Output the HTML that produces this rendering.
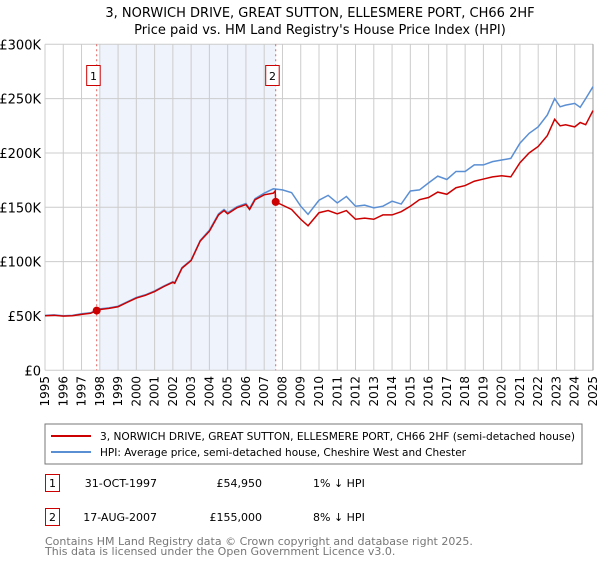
<!DOCTYPE html>
<html><head><meta charset="utf-8"><style>
body{margin:0;background:#fff;font-family:"Liberation Sans","DejaVu Sans",sans-serif;}
#wrap{position:relative;width:600px;height:560px;}
</style></head><body><div id="wrap">
<svg id="c" width="600" height="560" font-family="DejaVu Sans, Liberation Sans, sans-serif">
<text x="320" y="17" text-anchor="middle" font-size="13" fill="#000">3, NORWICH DRIVE, GREAT SUTTON, ELLESMERE PORT, CH66 2HF</text>
<text x="320" y="34" text-anchor="middle" font-size="13" fill="#000">Price paid vs. HM Land Registry's House Price Index (HPI)</text>
<g id="grid"></g><g id="marks"></g>
<rect x="45" y="424" width="537" height="40" fill="#fff" stroke="#777"/>
<line x1="51" y1="436" x2="91" y2="436" stroke="#cc0000" stroke-width="2"/>
<text x="100" y="440" font-size="11" textLength="475" lengthAdjust="spacingAndGlyphs">3, NORWICH DRIVE, GREAT SUTTON, ELLESMERE PORT, CH66 2HF (semi-detached house)</text>
<line x1="51" y1="452" x2="91" y2="452" stroke="#5b8fd4" stroke-width="2"/>
<text x="100" y="456" font-size="11" textLength="366" lengthAdjust="spacingAndGlyphs">HPI: Average price, semi-detached house, Cheshire West and Chester</text>
<rect x="45.5" y="474.5" width="14" height="17" fill="#fff" stroke="#cc0000"/>
<text x="52.5" y="487" font-size="11" text-anchor="middle">1</text>
<text x="157" y="487" font-size="11" text-anchor="end">31-OCT-1997</text>
<text x="262" y="487" font-size="11" text-anchor="end">£54,950</text>
<text x="313" y="487" font-size="11">1% ↓ HPI</text>
<rect x="45.5" y="508.5" width="14" height="17" fill="#fff" stroke="#cc0000"/>
<text x="52.5" y="521" font-size="11" text-anchor="middle">2</text>
<text x="157" y="521" font-size="11" text-anchor="end">17-AUG-2007</text>
<text x="262" y="521" font-size="11" text-anchor="end">£155,000</text>
<text x="313" y="521" font-size="11">8% ↓ HPI</text>
<text x="45" y="545" font-size="11" fill="#777">Contains HM Land Registry data © Crown copyright and database right 2025.</text>
<text x="45" y="555" font-size="11" fill="#777">This data is licensed under the Open Government Licence v3.0.</text>
</svg></div>
<script>
const hpiDates=[1995,1995.5,1996,1996.5,1997,1997.5,1997.83,1998,1998.5,1999,1999.5,2000,2000.5,2001,2001.5,2002,2002.1,2002.5,2003,2003.5,2004,2004.5,2004.8,2005,2005.5,2006,2006.2,2006.5,2007,2007.5,2008,2008.5,2009,2009.4,2010,2010.5,2011,2011.5,2012,2012.5,2013,2013.5,2014,2014.5,2015,2015.5,2016,2016.5,2017,2017.5,2018,2018.5,2019,2019.5,2020,2020.5,2021,2021.5,2022,2022.5,2022.9,2023.2,2023.5,2024,2024.3,2024.6,2025];
const hpiValues=[50.5,51,50.2,50.5,52,53,55.3,56.5,57.5,59,63,67,69.5,73,77.5,81.5,80.5,94.5,101.5,119.5,129,144,148,145,150.5,153.5,149,158,163,167,166,163.5,151,143.5,156.5,161,154,160,151,152,149.5,151,155.6,153,165,166,172.5,178.7,175.6,183,183,189,189,192,193.5,195,209,218,224,235,250,242.5,244,245.6,242,250,261];
const saleDates=[1995,1995.5,1996,1996.5,1997,1997.5,1997.83,1998,1998.5,1999,1999.5,2000,2000.5,2001,2001.5,2002,2002.1,2002.5,2003,2003.5,2004,2004.5,2004.8,2005,2005.5,2006,2006.2,2006.5,2007,2007.5,2007.6,2007.63,2008,2008.5,2009,2009.4,2010,2010.5,2011,2011.5,2012,2012.5,2013,2013.5,2014,2014.5,2015,2015.5,2016,2016.5,2017,2017.5,2018,2018.5,2019,2019.5,2020,2020.5,2021,2021.5,2022,2022.5,2022.9,2023.2,2023.5,2024,2024.3,2024.6,2025];
const saleValues=[50.2,50.6,49.8,50.2,51.5,52.5,55,56,57,58.5,62.5,66.5,69,72.5,77,81,80,94,101,119,128,143,147,144,149.5,152.5,148,157,161.5,163,165,155,152,148,139,133,145,147,144,147,139,140,139,143,143,146,151,157,159,164,162,168,170,174,176,178,179,178,191,200,206,216,231,225,226,224,228,226,239];
const yTicks=[0,50,100,150,200,250,300];
const yTickLabels=["£0","£50K","£100K","£150K","£200K","£250K","£300K"];
const years=[1995,1996,1997,1998,1999,2000,2001,2002,2003,2004,2005,2006,2007,2008,2009,2010,2011,2012,2013,2014,2015,2016,2017,2018,2019,2020,2021,2022,2023,2024,2025];
const sales=[[1997.83,54.95,"1"],[2007.63,155,"2"]];
const NS="http://www.w3.org/2000/svg";
const X=t=>45+(t-1995)*(548/30), Y=v=>370.3-v*(326/300);
function mk(tag,a,p){const e=document.createElementNS(NS,tag);for(const k in a)e.setAttribute(k,a[k]);p.appendChild(e);return e;}
const g=document.getElementById('grid'),m=document.getElementById('marks');
const sh=mk('rect',{x:X(1998),y:Y(300),width:X(2007.63)-X(1998),height:Y(0)-Y(300),fill:'#eef3fc'},g);


years.forEach(yr=>{
 const l=mk('line',{x1:X(yr),x2:X(yr),y1:Y(300),y2:Y(0),stroke:'#ccc'},g);
 
 
 const t=mk('text',{transform:`translate(${X(yr)+4},376) rotate(-90)`,'text-anchor':'end','font-size':'12'},g);
 t.textContent=yr;
 
 
});
yTicks.forEach((v,i)=>{
 const l=mk('line',{x1:45,x2:593,y1:Y(v),y2:Y(v),stroke:'#ccc'},g);
 
 
 const t=mk('text',{x:41,y:Y(v)+5,'text-anchor':'end','font-size':'13'},g);
 t.textContent=yTickLabels[i];
 
 
});
sales.forEach(s=>{
 const l=mk('line',{x1:X(s[0]),x2:X(s[0]),y1:Y(300),y2:Y(0),stroke:'#e06060','stroke-dasharray':'2,3'},g);
 
 
 const r=mk('rect',{x:X(s[0])-10,y:65.5,width:13.5,height:20,fill:'#fff',stroke:'#cc0000'},g);
 
 
 const t=mk('text',{x:X(s[0])-3.2,y:80,'text-anchor':'middle','font-size':'11'},g);
 t.textContent=s[2];
 
 
});
const pb=mk('polyline',{points:hpiDates.map((d,i)=>X(d)+','+Y(hpiValues[i])).join(' '),fill:'none',stroke:'#5b8fd4','stroke-width':'1.5'},m);


const pr=mk('polyline',{points:saleDates.map((d,i)=>X(d)+','+Y(saleValues[i])).join(' '),fill:'none',stroke:'#cc0000','stroke-width':'1.5'},m);


sales.forEach(s=>{
 const c=mk('circle',{cx:X(s[0]),cy:Y(s[1]),r:4,fill:'#cc0000'},m);
 
 
});
mk('line',{x1:593,x2:593,y1:Y(300),y2:Y(0),stroke:'#999'},g);
</script></body></html>
